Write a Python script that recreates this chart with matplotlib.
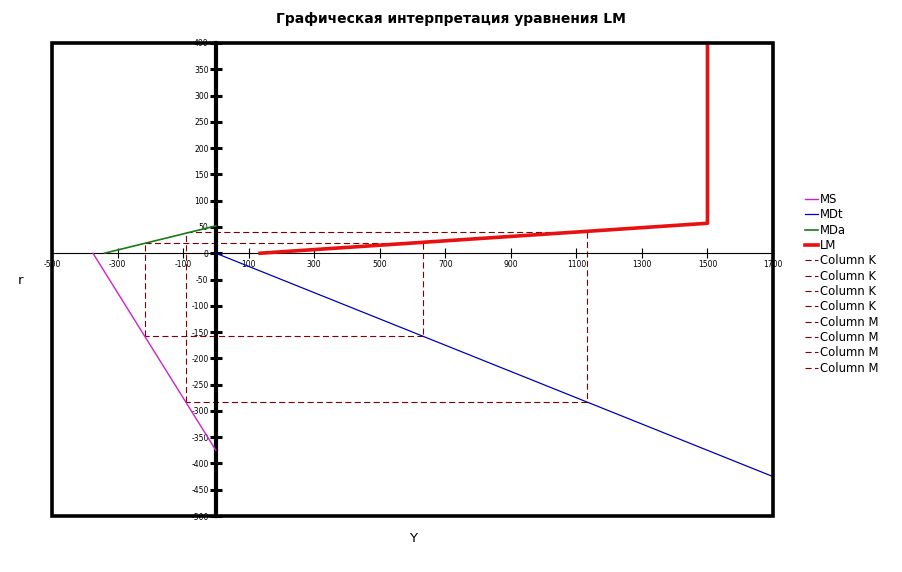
import matplotlib
matplotlib.use('Agg')
import matplotlib.pyplot as plt
from matplotlib.patches import Rectangle

plt.rcParams['font.family'] = ['DejaVu Sans']
plt.rcParams['axes.unicode_minus'] = False

# данные
ms_y = [-375, 0]
ms_r = [0, -375]
mdt_y = [0, 1700]
mdt_r = [0, -425]
mda_y = [-340, 0]
mda_r = [0, 52]
lm_y = [135, 1500, 1500]
lm_r = [0, 57, 400]
# прямоугольники построения (по 4 отрезка)
k_y = [633, 633, -215, -215, 633]
k_r = [19, -158, -158, 19, 19]
m_y = [1133, 1133, -90, -90, 1133]
m_r = [40, -283, -283, 40, 40]

x_ticks = list(range(-500, 1701, 200))
y_ticks = list(range(-500, 401, 50))

fig = plt.figure(figsize=(9.03, 5.72), dpi=100)
ax = fig.add_axes([52/903, 1-516/572, (773-52)/903, (516-43)/572])

dash_col = '#800000'
k_lines = []
for i in range(4):
    l, = ax.plot(k_y[i:i+2], k_r[i:i+2], color=dash_col, lw=0.8,
                 linestyle=(0, (5.5, 3)), zorder=2, label='Column K')
    k_lines.append(l)
m_lines = []
for i in range(4):
    l, = ax.plot(m_y[i:i+2], m_r[i:i+2], color=dash_col, lw=0.8,
                 linestyle=(0, (5.5, 3)), zorder=2, label='Column M')
    m_lines.append(l)

l_ms, = ax.plot(ms_y, ms_r, color='#cc22cc', lw=1.0, zorder=3, label='MS')
l_mdt, = ax.plot(mdt_y, mdt_r, color='#0000bb', lw=0.9, zorder=3, label='MDt')
l_mda, = ax.plot(mda_y, mda_r, color='#1a7a1a', lw=1.2, zorder=3, label='MDa')
l_lm, = ax.plot(lm_y, lm_r, color='#e81010', lw=2.6, zorder=4, label='LM')

ax.set_xlim(-500, 1700)
ax.set_ylim(-500, 400)
ax.set_xticks(x_ticks)
ax.set_yticks(y_ticks)

ax.spines['left'].set_position(('data', 0))
ax.spines['bottom'].set_position(('data', 0))
ax.spines['left'].set_linewidth(3)
ax.spines['bottom'].set_linewidth(0.8)
ax.spines['top'].set_visible(False)
ax.spines['right'].set_visible(False)

ax.tick_params(axis='y', direction='inout', length=8.5, width=2.2,
               labelsize=5.5, pad=1)
ax.tick_params(axis='x', direction='inout', length=7, width=0.8,
               labelsize=5.5, pad=1.5)

# рамка вокруг области построения
frame = Rectangle((0, 0), 1, 1, transform=ax.transAxes, fill=False,
                  lw=2.6, edgecolor='black', zorder=10, clip_on=False)
ax.add_patch(frame)

fig.text(0.499, 1-19/572, 'Графическая интерпретация уравнения LM',
         ha='center', va='center', fontsize=10, fontweight='bold')
fig.text(413/903, 1-539/572, 'Y', ha='center', va='center', fontsize=9.5)
fig.text(21/903, 1-281/572, 'r', ha='center', va='center', fontsize=9.5)

handles = [l_ms, l_mdt, l_mda, l_lm] + k_lines + m_lines
fig.legend(handles=handles, labels=[h.get_label() for h in handles],
           loc='upper left', bbox_to_anchor=(805/903, 1-193/572),
           frameon=False, fontsize=8.4, handlelength=1.1, handletextpad=0.2,
           labelspacing=0.2, borderpad=0, borderaxespad=0)

fig.savefig('out.png', dpi=100)
